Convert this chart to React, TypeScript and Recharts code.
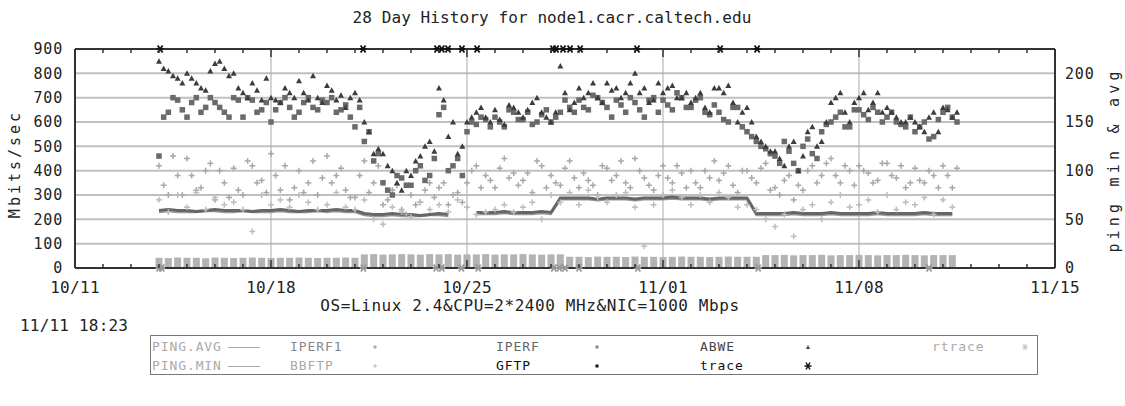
import React from "react";
import {
  ComposedChart,
  XAxis,
  YAxis,
  CartesianGrid,
  Scatter,
  Line,
  ReferenceLine,
} from "recharts";

// one sample every 8 hours, in days after 10/11; second set sits 4 hours later
const sampleDays = Array.from({ length: 86 }, (_, i) => 3 + i / 3);
const laterDays = sampleDays.map((t) => t + 1 / 6);

const dayTicks = Array.from({ length: 36 }, (_, i) => i);
const weekLabels: Record<number, string> = {
  0: "10/11",
  7: "10/18",
  14: "10/25",
  21: "11/01",
  28: "11/08",
  35: "11/15",
};
const leftTicks = [0, 100, 200, 300, 400, 500, 600, 700, 800, 900];
const rightTicks = [0, 50, 100, 150, 200];

// Mbits/sec
const iperf = [
  460, 640, 690, 620, 700, 660, 680, 640, 700, 620, 690, 650, 600, 680, 660, 640, 700, 650, 680, 640, 670,
  580, 520, 440, 350, 300, 370, 340, 420, 380, 630, 400, 450, 560, 590, 610, 620, 580, 640, 610, 590, 630,
  600, 640, 660, 690, 650, 700, 660, 690, 640, 680, 620, 700, 690, 650, 700, 660, 700, 630, 640, 600, 660,
  560, 520, 490, 460, 520, 430, 500, 470, 560, 600, 640, 580, 650, 610, 640, 620, 600, 580, 560, 600, 540,
  640, 620,
];
const iperfB = [
  620, 700, 650, 680, 640, 700, 660, 620, 690, 700, 640, 680, 650, 700, 620, 680, 660, 690, 700, 650, 620,
  660, 560, 470, 320, 380, 340, 400, 360, 450, 660, 420, 380, 600, 620, 580, 600, 650, 610, 640, 600, 650,
  620, 690, 640, 660, 710, 680, 620, 670, 700, 650, 690, 640, 670, 720, 660, 690, 640, 670, 610, 660, 580,
  540, 500, 470, 430, 480, 400, 530, 450, 590, 620, 580, 650, 630, 660, 600, 640, 590, 620, 580, 530, 610,
  660, 600,
];
const abwe = [
  850, 810, 780, 800, 760, 730, 840, 820, 800, 720, 760, 690, 700, 680, 720, 770, 690, 700, 750, 690, 660,
  720, 600, 470, 470, 400, 320, 380, 460, 520, 740, 540, 470, 600, 640, 620, 650, 590, 660, 620, 680, 640,
  600, 830, 650, 740, 720, 700, 760, 740, 720, 800, 740, 690, 720, 750, 700, 680, 720, 640, 740, 750, 600,
  660, 540, 500, 480, 420, 520, 460, 580, 520, 680, 720, 600, 700, 650, 720, 660, 620, 600, 600, 560, 640,
  660, 620,
];
const abweB = [
  820, 790, 760, 780, 740, 810, 850, 790, 740, 700, 730, 780, 690, 740, 700, 720, 790, 680, 730, 710, 700,
  690, 560, 490, 420, 350, 400, 440, 500, 480, 690, 600, 500, 620, 660, 600, 610, 670, 640, 650, 700, 620,
  640, 720, 680, 700, 760, 680, 730, 700, 760, 720, 680, 760, 740, 700, 720, 700, 660, 740, 720, 680, 640,
  600, 520, 480, 450, 500, 400, 560, 500, 600, 700, 640, 680, 720, 680, 640, 640, 600, 620, 580, 620, 560,
  650, 640,
];
const iperf1 = [
  420, 300, 380, 450, 320, 400, 280, 350, 410, 300, 420, 360, 470, 320, 280, 400, 350, 300, 460, 380, 320,
  290, 440, 350, 260, 320, 240, 300, 270, 350, 330, 260, 310, 350, 420, 380, 330, 450, 390, 360, 310, 420,
  380, 340, 440, 330, 360, 300, 410, 380, 350, 450, 370, 320, 420, 350, 390, 400, 330, 370, 360, 420, 310,
  400, 350, 430, 330, 360, 280, 320, 420, 380, 450, 350, 400, 420, 390, 360, 430, 370, 330, 410, 350, 380,
  420, 330,
];
const iperf1B = [
  340, 460, 300, 380, 330, 430, 400, 290, 320, 440, 350, 310, 380, 420, 330, 310, 440, 370, 350, 410, 290,
  380, 310, 420, 280, 340, 220, 260, 320, 290, 350, 300, 270, 400, 330, 360, 410, 370, 340, 390, 440, 330,
  350, 410, 370, 390, 340, 420, 360, 440, 330, 400, 340, 380, 370, 420, 330, 350, 400, 440, 390, 340, 400,
  370, 410, 320, 300, 380, 340, 400, 350, 430, 380, 420, 340, 400, 350, 430, 380, 420, 350, 360, 400, 330,
  380, 410,
];
const bbftp = [
  280, 230, 300, 250, 310, 240, 290, 260, 270, 240, 150, 300, 260, 280, 250, 300, 270, 240, 260, 310, 250,
  240, 280, 200, 180, 250, 230, 210, 270, 240, 260, 230, 280, 250, 220, 230, 240, 260, 230, 250, 270, 200,
  300, 270, 310, 260, 320, 290, 270, 300, 310, 250, 90, 260, 300, 320, 290, 260, 300, 270, 310, 290, 250,
  260, 240, 200, 170, 220, 130, 240, 260, 200, 270, 300, 250, 260, 280, 230, 300, 240, 270, 260, 290, 220,
  280, 250,
];
// ms
const pingAvg = [
  59, 60, 59, 59, 58, 59, 60, 59, 59, 59, 58, 59, 59, 60, 59, 58, 59, 59, 59, 60, 59,
  59, 56, 55, 55, 56, 55, 55, 54, 55, 56, 55, null, null, 57, 57, 57, 58, 57, 57, 57, 58,
  57, 72, 72, 72, 72, 71, 72, 72, 72, 71, 72, 72, 72, 73, 72, 72, 72, 71, 72, 72, 72,
  72, 56, 56, 56, 56, 57, 56, 56, 56, 57, 56, 56, 56, 56, 57, 56, 56, 56, 56, 57, 56,
  56, 56,
];
const pingMin = [
  57, 58, 57, 57, 57, 58, 58, 57, 57, 58, 57, 57, 57, 58, 57, 57, 57, 58, 57, 58, 57,
  57, 54, 53, 53, 54, 53, 53, 53, 54, 54, 53, null, null, 55, 55, 55, 56, 55, 55, 55, 56,
  55, 70, 70, 70, 70, 69, 70, 70, 70, 69, 70, 70, 70, 71, 70, 70, 70, 69, 70, 70, 70,
  70, 54, 54, 54, 54, 55, 54, 54, 54, 55, 54, 54, 54, 54, 55, 54, 54, 54, 54, 55, 54,
  54, 54,
];
// low grey blocks along the floor (Mbits/sec)
const lowBand = [
  42, 41, 43, 42, 42, 40, 43, 42, 41, 42, 43, 42, 41, 42, 42, 43, 42, 41, 42, 42, 43,
  42, 56, 57, 55, 56, 57, 56, 55, 57, 56, 57, 55, 56, 56, 57, 55, 56, 56, 57, 56, 55,
  56, 56, 46, 46, 45, 47, 46, 46, 45, 47, 46, 46, 45, 46, 47, 46, 46, 45, 46, 47, 46,
  46, 46, 53, 53, 54, 52, 53, 53, 54, 52, 53, 53, 54, 53, 52, 53, 53, 54, 53, 52, 53,
  53, 53,
];
// route change days
const traceDays = [3.04, 10.29, 12.93, 13.1, 13.32, 13.82, 14.36, 17.07, 17.18, 17.43, 17.68, 18.04, 20.07, 23.04, 24.36];
const rtraceDays = [3.0, 3.1, 10.3, 12.9, 13.1, 13.8, 14.4, 17.1, 17.3, 17.5, 18.0, 20.1, 24.4, 30.5];

const pingRows = sampleDays.map((t, i) => ({ t, pingAvg: pingAvg[i], pingMin: pingMin[i] }));
const points = (a: number[], b?: number[]) => [
  ...sampleDays.map((t, i) => ({ t, v: a[i] })),
  ...(b ? laterDays.map((t, i) => ({ t, v: b[i] })) : []),
];
const iperfPts = points(iperf, iperfB);
const abwePts = points(abwe, abweB);
const iperf1Pts = points(iperf1, iperf1B);
const bbftpPts = points(bbftp);
const lowPts = points(lowBand);
const traceRows = traceDays.map((t) => ({ t, v: 900 }));
const rtraceRows = rtraceDays.map((t) => ({ t, v: 0 }));

const PLOT_TOP = 49;
const PLOT_BOTTOM = 268;
const mono = "'DejaVu Sans Mono', monospace";

function BottomTick(props: any) {
  const { x, payload } = props;
  const label = weekLabels[payload.value];
  return (
    <g>
      <line x1={x} x2={x} y1={PLOT_BOTTOM} y2={label ? PLOT_BOTTOM - 8 : PLOT_BOTTOM - 4} stroke="#333" strokeWidth={1.5} />
      {label && (
        <text x={x} y={PLOT_BOTTOM + 25} textAnchor="middle" fontFamily={mono} fontSize={16} letterSpacing={0.3} fill="#222">
          {label}
        </text>
      )}
    </g>
  );
}

function TopTick(props: any) {
  const { x, payload } = props;
  const major = weekLabels[payload.value] !== undefined;
  return <line x1={x} x2={x} y1={PLOT_TOP} y2={major ? PLOT_TOP + 8 : PLOT_TOP + 4} stroke="#333" strokeWidth={1.5} />;
}

const square = (fill: string, s: number) => (p: any) =>
  <rect x={p.cx - s / 2} y={p.cy - s / 2} width={s} height={s} fill={fill} />;
const triangle = (p: any) => (
  <polygon points={`${p.cx - 3},${p.cy + 2.5} ${p.cx + 3},${p.cy + 2.5} ${p.cx},${p.cy - 3}`} fill="#3c3c3c" />
);
const plus = (stroke: string) => (p: any) => (
  <g stroke={stroke} strokeWidth={1.5}>
    <line x1={p.cx - 3} x2={p.cx + 3} y1={p.cy} y2={p.cy} />
    <line x1={p.cx} x2={p.cx} y1={p.cy - 3} y2={p.cy + 3} />
  </g>
);
const star = (stroke: string) => (p: any) => (
  <g stroke={stroke} strokeWidth={1.8}>
    <line x1={p.cx - 3.5} x2={p.cx + 3.5} y1={p.cy} y2={p.cy} />
    <line x1={p.cx - 2.5} x2={p.cx + 2.5} y1={p.cy - 3.5} y2={p.cy + 3.5} />
    <line x1={p.cx + 2.5} x2={p.cx - 2.5} y1={p.cy - 3.5} y2={p.cy + 3.5} />
  </g>
);
const block = (p: any) => (
  <rect x={p.cx - 3.5} y={p.cy} width={7} height={Math.max(0, PLOT_BOTTOM - 1 - p.cy)} fill="#b3b3b3" />
);

function Mark({ kind }: { kind: string }) {
  return (
    <svg width={10} height={10} style={{ display: "block" }}>
      {kind === "plus" && <g stroke="#999" strokeWidth={1}><line x1={3} x2={7} y1={5} y2={5} /><line x1={5} x2={5} y1={3} y2={7} /></g>}
      {kind === "plus2" && <g stroke="#bbb" strokeWidth={1}><line x1={3} x2={7} y1={5} y2={5} /><line x1={5} x2={5} y1={3} y2={7} /></g>}
      {kind === "sq" && <rect x={3.5} y={3.5} width={3} height={3} fill="#888" />}
      {kind === "sqb" && <rect x={3.5} y={3.5} width={3} height={3} fill="#111" />}
      {kind === "tri" && <polygon points="3,7 7,7 5,3" fill="#444" />}
      {kind === "star" && <g stroke="#111" strokeWidth={1.5}><line x1={1.5} x2={8.5} y1={5} y2={5} /><line x1={3} x2={7} y1={1.5} y2={8.5} /><line x1={7} x2={3} y1={1.5} y2={8.5} /></g>}
      {kind === "star2" && <g stroke="#bbb" strokeWidth={1}><line x1={2} x2={8} y1={5} y2={5} /><line x1={3.5} x2={6.5} y1={2} y2={8} /><line x1={6.5} x2={3.5} y1={2} y2={8} /></g>}
    </svg>
  );
}

const legendItems = [
  { label: "PING.AVG", color: "#aaa", x: 152, row: 0, line: true },
  { label: "PING.MIN", color: "#aaa", x: 152, row: 1, line: true },
  { label: "IPERF1", color: "#888", x: 290, row: 0, mark: "plus", mx: 370 },
  { label: "BBFTP", color: "#aaa", x: 290, row: 1, mark: "plus2", mx: 370 },
  { label: "IPERF", color: "#666", x: 496, row: 0, mark: "sq", mx: 592 },
  { label: "GFTP", color: "#111", x: 496, row: 1, mark: "sqb", mx: 592 },
  { label: "ABWE", color: "#444", x: 700, row: 0, mark: "tri", mx: 803 },
  { label: "trace", color: "#111", x: 700, row: 1, mark: "star", mx: 803 },
  { label: "rtrace", color: "#aaa", x: 932, row: 0, mark: "star2", mx: 1020 },
];

export default function App() {
  return (
    <div style={{ position: "absolute", left: 0, top: 0, width: 1125, height: 406, background: "#fff", fontFamily: mono, color: "#222" }}>
      <div style={{ position: "absolute", top: 9, left: 0, width: 1104, textAlign: "center", fontSize: 16, letterSpacing: 0.1, lineHeight: "18px" }}>
        28 Day History for node1.cacr.caltech.edu
      </div>

      <div style={{ position: "absolute", left: 0, top: 0 }}>
        <ComposedChart width={1125} height={300} data={pingRows} margin={{ top: 44, right: 0, bottom: 2, left: 0 }}>
          <CartesianGrid yAxisId="left" horizontal vertical={false} stroke="#c0c0c0" strokeWidth={2} />
          <XAxis
            type="number"
            dataKey="t"
            domain={[0, 35]}
            ticks={dayTicks}
            interval={0}
            height={30}
            tick={<BottomTick />}
            tickLine={false}
            axisLine={{ stroke: "#333", strokeWidth: 2 }}
            allowDataOverflow
          />
          <XAxis
            xAxisId="top"
            orientation="top"
            type="number"
            dataKey="t"
            domain={[0, 35]}
            ticks={dayTicks}
            interval={0}
            height={5}
            tick={<TopTick />}
            tickLine={false}
            axisLine={{ stroke: "#333", strokeWidth: 2 }}
            allowDataOverflow
          />
          <YAxis
            yAxisId="left"
            domain={[0, 900]}
            ticks={leftTicks}
            width={75}
            tickLine={false}
            tickSize={0}
            tickMargin={12}
            axisLine={{ stroke: "#333", strokeWidth: 2 }}
            tick={{ fontFamily: mono, fontSize: 15, letterSpacing: 0.8, fill: "#222" }}
          />
          <YAxis
            yAxisId="right"
            orientation="right"
            domain={[0, 225]}
            ticks={rightTicks}
            width={70}
            tickLine={false}
            tickSize={0}
            tickMargin={10}
            axisLine={{ stroke: "#333", strokeWidth: 2 }}
            tick={{ fontFamily: mono, fontSize: 15, letterSpacing: 0.8, fill: "#222", textAnchor: "start" }}
          />
          {[7, 14, 21, 28].map((d) => (
            <ReferenceLine key={d} x={d} yAxisId="left" stroke="#aaa" strokeWidth={1} />
          ))}
          <Scatter yAxisId="left" data={lowPts} dataKey="v" shape={block} isAnimationActive={false} />
          <Line yAxisId="right" dataKey="pingMin" stroke="#999" strokeWidth={1.5} dot={false} isAnimationActive={false} />
          <Line yAxisId="right" dataKey="pingAvg" stroke="#666" strokeWidth={3} dot={false} isAnimationActive={false} />
          <Scatter yAxisId="left" data={iperf1Pts} dataKey="v" shape={plus("#a8a8a8")} isAnimationActive={false} />
          <Scatter yAxisId="left" data={bbftpPts} dataKey="v" shape={plus("#bdbdbd")} isAnimationActive={false} />
          <Scatter yAxisId="left" data={iperfPts} dataKey="v" shape={square("#6a6a6a", 5.5)} isAnimationActive={false} />
          <Scatter yAxisId="left" data={abwePts} dataKey="v" shape={triangle} isAnimationActive={false} />
          <Scatter yAxisId="left" data={rtraceRows} dataKey="v" shape={star("#999")} isAnimationActive={false} />
          <Scatter yAxisId="left" data={traceRows} dataKey="v" shape={star("#111")} isAnimationActive={false} />
        </ComposedChart>
      </div>

      <div style={{ position: "absolute", left: 15, top: 164, transform: "translate(-50%, -50%) rotate(-90deg)", fontSize: 15, letterSpacing: 3, whiteSpace: "nowrap", lineHeight: "16px" }}>
        Mbits/sec
      </div>
      <div style={{ position: "absolute", left: 1114, top: 160, transform: "translate(-50%, -50%) rotate(-90deg)", fontSize: 15, letterSpacing: 4.2, whiteSpace: "nowrap", lineHeight: "16px" }}>
        ping min &amp; avg
      </div>

      <div style={{ position: "absolute", top: 297, left: 300, width: 460, textAlign: "center", fontSize: 16, letterSpacing: 0.6, lineHeight: "18px", whiteSpace: "nowrap" }}>
        OS=Linux 2.4&amp;CPU=2*2400 MHz&amp;NIC=1000 Mbps
      </div>
      <div style={{ position: "absolute", top: 317, left: 20, fontSize: 16, letterSpacing: 0.2, lineHeight: "18px" }}>
        11/11 18:23
      </div>

      <div style={{ position: "absolute", left: 150, top: 335, width: 888, height: 40, border: "1.5px solid #777", boxSizing: "border-box" }} />
      {legendItems.map((it) => (
        <React.Fragment key={it.label}>
          <div style={{ position: "absolute", left: it.x, top: 340 + it.row * 19, fontSize: 13, letterSpacing: 0.9, lineHeight: "14px", color: it.color }}>
            {it.label}
          </div>
          {it.line && <div style={{ position: "absolute", left: 228, width: 32, top: 347 + it.row * 19, borderTop: "1px solid #aaa" }} />}
          {it.mark && (
            <div style={{ position: "absolute", left: it.mx, top: 342 + it.row * 19 }}>
              <Mark kind={it.mark} />
            </div>
          )}
        </React.Fragment>
      ))}
    </div>
  );
}
